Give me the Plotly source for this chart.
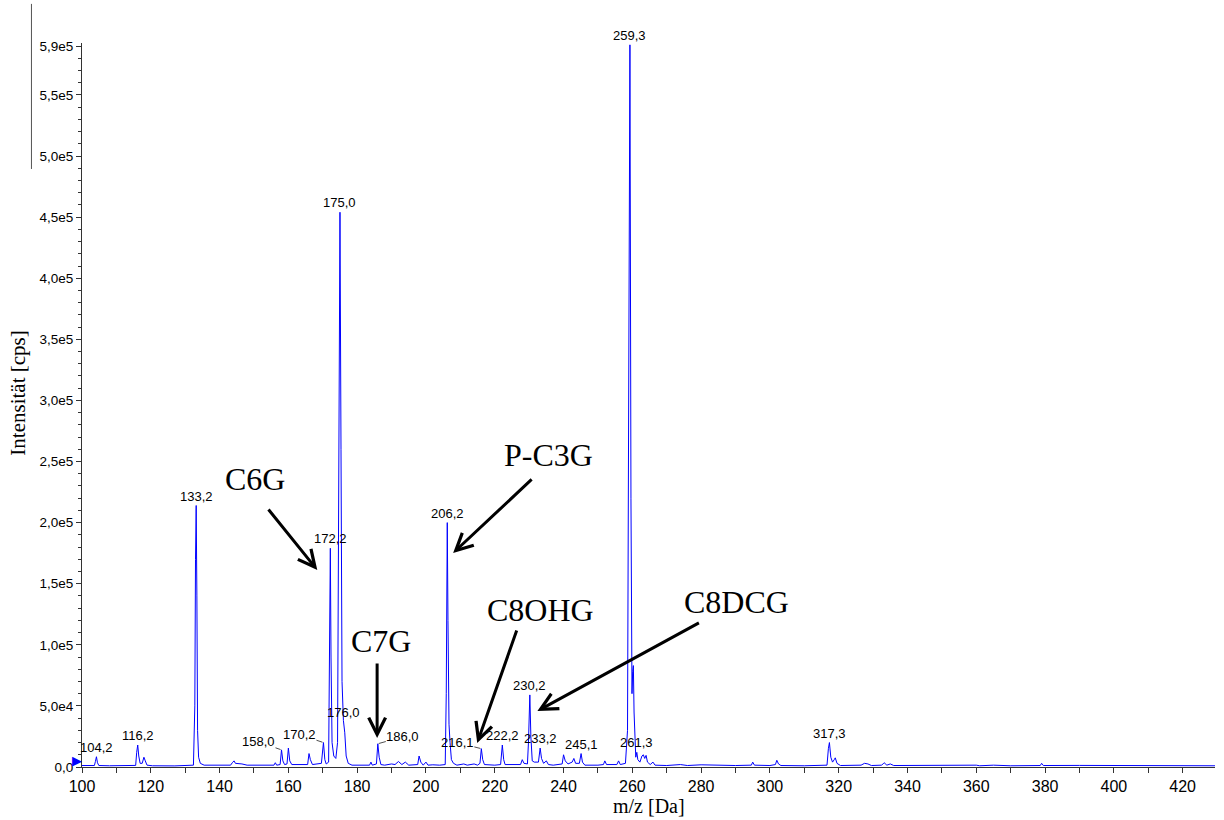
import plotly.graph_objects as go

# Profile spectrum: m/z [Da] and intensity [cps]
mz = [
    100.0, 102.0, 103.6, 103.9, 104.2, 104.5, 104.9, 108.0, 112.0, 115.6,
    115.9, 116.2, 116.5, 116.9, 117.5, 118.0, 118.4, 118.9, 120.5, 127.0,
    132.4, 132.8, 133.0, 133.2, 133.4, 133.6, 133.9, 134.4, 135.5, 143.2,
    143.7, 144.2, 144.6, 145.5, 146.5, 148.0, 155.8, 156.2, 156.6, 157.6,
    158.0, 158.4, 158.9, 159.6, 160.0, 160.4, 161.0, 165.6, 166.0, 166.4,
    167.0, 169.6, 170.0, 170.2, 170.6, 171.0, 171.7, 172.0, 172.2, 172.4,
    172.7, 173.2, 173.8, 174.3, 174.7, 175.0, 175.3, 175.6, 176.0, 176.4,
    176.8, 177.4, 178.5, 183.6, 184.0, 184.4, 185.6, 186.0, 186.4, 186.9,
    188.0, 190.0, 191.0, 192.0, 193.0, 194.0, 195.0, 197.6, 198.0, 198.5,
    199.2, 200.0, 200.6, 202.0, 204.0, 205.6, 205.9, 206.0, 206.2, 206.4,
    206.7, 207.0, 207.4, 208.0, 209.0, 211.0, 212.0, 214.0, 215.0, 215.7,
    216.1, 216.5, 217.0, 220.0, 221.7, 222.2, 222.6, 223.0, 227.5, 228.0,
    228.5, 229.5, 229.8, 230.2, 230.5, 230.9, 231.5, 232.7, 233.2, 233.6,
    234.2, 235.0, 235.6, 237.0, 239.6, 240.0, 240.5, 241.3, 242.5, 243.0,
    243.5, 244.6, 245.1, 245.5, 246.2, 250.0, 251.6, 252.0, 252.5, 255.5,
    256.0, 256.5, 258.0, 258.6, 258.9, 259.3, 259.6, 259.9, 260.1, 260.3,
    260.5, 260.8, 261.0, 261.3, 261.6, 262.2, 262.8, 263.2, 263.6, 264.0,
    264.4, 265.2, 266.0, 266.6, 270.0, 274.0, 276.0, 280.0, 285.0, 290.0,
    294.6, 295.0, 295.5, 300.0, 301.6, 302.0, 302.5, 303.2, 310.0, 316.6,
    317.0, 317.3, 317.7, 318.2, 318.7, 319.0, 319.5, 320.5, 326.5, 327.5,
    328.5, 329.5, 332.5, 333.2, 334.0, 335.0, 336.0, 342.0, 344.0, 350.0,
    360.0, 361.0, 365.0, 370.0, 375.0, 378.6, 379.0, 379.5, 390.0, 400.0,
    410.0, 420.0, 429.4,
]
intensity = [
    1200, 1000, 1200, 4500, 8400, 3500, 1200, 1000, 1100, 1300,
    12000, 18000, 9000, 3000, 3000, 8000, 5000, 1500, 1000, 900,
    1500, 50000, 170000, 214000, 140000, 30000, 8000, 3000, 1500, 1500,
    3500, 5000, 3000, 3000, 2500, 1500, 1500, 3500, 1500, 2000,
    14000, 5000, 2000, 2500, 15500, 5000, 2000, 2000, 11000, 6000,
    2000, 3000, 14000, 20000, 6000, 2500, 4000, 120000, 179000, 90000,
    20000, 9000, 7000, 20000, 300000, 454000, 260000, 70000, 38000, 28000,
    9000, 3000, 1500, 1500, 4000, 1500, 2500, 19000, 8000, 2000,
    1500, 2500, 2000, 4500, 2000, 4000, 1500, 2000, 9000, 4000,
    1500, 4000, 1500, 1800, 1500, 2000, 60000, 150000, 200000, 120000,
    35000, 20000, 6000, 3000, 1500, 2500, 1500, 2500, 1500, 3000,
    15000, 6000, 2000, 1500, 2000, 18000, 6000, 2000, 2000, 6000,
    3000, 2500, 20000, 59000, 25000, 5000, 4000, 4000, 15500, 7000,
    3000, 5000, 2000, 1500, 2500, 10000, 5000, 2500, 4000, 7000,
    3000, 3000, 11000, 4000, 1500, 1500, 2000, 5000, 2000, 2000,
    5000, 2000, 3000, 30000, 300000, 591000, 220000, 60000, 78000, 83000,
    45000, 15000, 8000, 12000, 6000, 4000, 9000, 10000, 7000, 9500,
    4000, 2000, 4000, 1500, 1200, 2000, 1200, 1800, 1200, 1200,
    1500, 4000, 1500, 1200, 2000, 5500, 2500, 1200, 1000, 1500,
    15000, 20000, 8000, 4000, 6000, 7500, 3000, 1200, 1500, 3000,
    2500, 1200, 1500, 3500, 1500, 2500, 1200, 1300, 1500, 1000,
    1500, 1000, 1500, 1000, 1400, 1200, 3000, 1200, 1300, 1100,
    1000, 1100, 1000,
]

# Labelled peak maxima
label_mz = [104.2, 116.2, 133.2, 158.0, 170.2, 172.2, 175.0, 176.0, 186.0,
            206.2, 216.1, 222.2, 230.2, 233.2, 245.1, 259.3, 261.3, 317.3]

# Assigned compounds
compound_names = ["C6G", "P-C3G", "C7G", "C8OHG", "C8DCG"]

# Axis ticks
x_tickvals = [100, 120, 140, 160, 180, 200, 220, 240, 260, 280, 300, 320, 340, 360, 380, 400, 420]
y_tickvals = [0, 50000, 100000, 150000, 200000, 250000, 300000, 350000,
              400000, 450000, 500000, 550000, 590000]
y_ticktext = ["0,0", "5,0e4", "1,0e5", "1,5e5", "2,0e5", "2,5e5", "3,0e5", "3,5e5",
              "4,0e5", "4,5e5", "5,0e5", "5,5e5", "5,9e5"]

SANS = "Liberation Sans, Arial, sans-serif"
SERIF = "Liberation Serif, Times New Roman, serif"
AXIS_COLOR = "#333333"

fig = go.Figure()
fig.add_trace(go.Scatter(
    x=mz, y=intensity, mode="lines",
    line=dict(color="#0000ff", width=1),
    hoverinfo="x+y", showlegend=False,
))

# Peak labels (some with short leader lines)
peak_lookup = dict(zip(mz, intensity))
leader_offsets = {158.0: (-23, -8), 170.2: (-24, -8), 186.0: (25, -7), 216.1: (-24, -6)}
label_lift = {176.0: 0}
for m in label_mz:
    txt = f"{m:.1f}".replace(".", ",")
    h = peak_lookup[m]
    if m in leader_offsets:
        ax, ay = leader_offsets[m]
        fig.add_annotation(
            x=m, y=h, text=txt, showarrow=True, arrowhead=0, arrowwidth=0.8,
            arrowcolor="#222222", ax=ax, ay=ay, standoff=1, borderpad=0,
            font=dict(family=SANS, size=13, color="black"),
        )
    else:
        fig.add_annotation(
            x=m, y=h, text=txt, showarrow=False, xanchor="center", yanchor="bottom",
            yshift=label_lift.get(m, 1), borderpad=0,
            font=dict(family=SANS, size=13, color="black"),
        )

# Compound names with arrows: (arrow tip x, tip y, tail dx, tail dy, text x, text y)
compound_layout = [
    (168.4, 161200, -50, -62, 150.4, 235700),
    (207.9, 175100, 80, -75, 235.6, 255300),
    (185.8, 23700, 0, -76, 187.0, 103100),
    (214.9, 19600, 40, -114, 233.2, 128500),
    (232.4, 45800, 163, -89, 290.2, 135000),
]
for name, (tx, ty, dx, dy, lx, ly) in zip(compound_names, compound_layout):
    fig.add_annotation(
        x=tx, y=ty, text="", showarrow=True, arrowhead=5, arrowsize=1.1,
        arrowwidth=3, arrowcolor="black", ax=dx, ay=dy, standoff=0,
    )
    fig.add_annotation(
        x=lx, y=ly, text=name, showarrow=False, xanchor="center", yanchor="middle",
        font=dict(family=SERIF, size=32, color="black"),
    )

# Axis titles
fig.add_annotation(
    xref="paper", yref="paper", x=-0.0565, y=0.517, text="Intensität [cps]",
    textangle=-90, showarrow=False, xanchor="center", yanchor="middle",
    font=dict(family=SERIF, size=21, color="black"),
)
fig.add_annotation(
    xref="paper", yref="paper", x=0.5, y=-0.054, text="m/z [Da]",
    showarrow=False, xanchor="center", yanchor="middle", borderpad=0,
    font=dict(family=SERIF, size=20, color="black"),
)

# Start marker at the origin of the intensity axis
fig.add_annotation(
    x=100, y=0, text="▶", showarrow=False, xanchor="right", yanchor="bottom",
    xshift=2, yshift=-3, font=dict(family="DejaVu Sans", size=13, color="#0000ff"),
)

# Thin vertical rule in the upper left corner
fig.add_shape(
    type="line", xref="paper", yref="paper",
    x0=-0.0446, x1=-0.0446, y0=0.826, y1=1.054,
    line=dict(color="#555555", width=1),
)

fig.update_xaxes(
    range=[100, 429.4], tickmode="array", tickvals=x_tickvals,
    ticktext=[str(v) for v in x_tickvals],
    showgrid=False, zeroline=False, showline=True, linecolor=AXIS_COLOR, linewidth=1,
    ticks="outside", ticklen=5, tickcolor=AXIS_COLOR, tickwidth=1,
    tickfont=dict(family=SANS, size=16, color="black"),
    minor=dict(tickmode="linear", tick0=0, dtick=10, ticks="outside", ticklen=5,
               tickcolor=AXIS_COLOR, showgrid=False),
)
fig.update_yaxes(
    range=[0, 592500], tickmode="array", tickvals=y_tickvals, ticktext=y_ticktext,
    showgrid=False, zeroline=False, showline=True, linecolor=AXIS_COLOR, linewidth=1,
    ticks="outside", ticklen=5, tickcolor=AXIS_COLOR, tickwidth=1,
    tickfont=dict(family=SANS, size=13.5, color="black"),
    minor=dict(tickmode="linear", tick0=0, dtick=10000, ticks="outside", ticklen=3,
               tickcolor=AXIS_COLOR, showgrid=False),
)

fig.update_layout(
    width=1224, height=820,
    margin=dict(l=82, r=9, t=43, b=53),
    paper_bgcolor="white", plot_bgcolor="white",
    showlegend=False,
)

fig.write_html("out.html")
